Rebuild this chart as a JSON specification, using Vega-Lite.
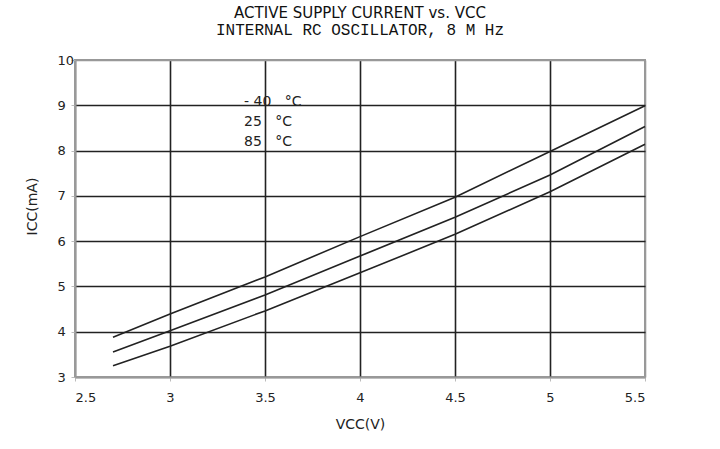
{
  "$schema": "https://vega.github.io/schema/vega-lite/v6.json",
  "autosize": {"type": "none"},
  "width": 570,
  "height": 317,
  "padding": {"left": 75, "top": 60, "right": 75, "bottom": 72},
  "background": "white",
  "title": {
    "text": "ACTIVE SUPPLY CURRENT vs. VCC",
    "subtitle": "INTERNAL RC OSCILLATOR, 8 M Hz",
    "anchor": "middle",
    "font": "DejaVu Sans",
    "fontSize": 15,
    "fontWeight": "normal",
    "color": "#111",
    "subtitleFont": "Liberation Mono",
    "subtitleFontSize": 16,
    "subtitleColor": "#111",
    "subtitlePadding": 1,
    "offset": 16
  },
  "config": {
    "view": {"stroke": "#999", "strokeWidth": 2},
    "axis": {
      "labelFont": "DejaVu Sans",
      "labelFontSize": 13,
      "labelColor": "#222",
      "titleFont": "DejaVu Sans",
      "titleFontSize": 14,
      "titleFontWeight": "normal",
      "titleColor": "#222",
      "domainColor": "#999",
      "domainWidth": 2,
      "tickColor": "#bbb",
      "tickSize": 4,
      "gridColor": "#222",
      "gridWidth": 1.6,
      "gridOpacity": 1
    }
  },
  "layer": [
    {
      "data": {
        "values": [
          {"vcc": 2.7, "icc": 3.88, "temp": "-40 °C"},
          {"vcc": 3.0, "icc": 4.39, "temp": "-40 °C"},
          {"vcc": 3.5, "icc": 5.21, "temp": "-40 °C"},
          {"vcc": 4.0, "icc": 6.10, "temp": "-40 °C"},
          {"vcc": 4.5, "icc": 6.97, "temp": "-40 °C"},
          {"vcc": 5.0, "icc": 7.98, "temp": "-40 °C"},
          {"vcc": 5.5, "icc": 8.99, "temp": "-40 °C"},
          {"vcc": 2.7, "icc": 3.55, "temp": "25 °C"},
          {"vcc": 3.0, "icc": 4.02, "temp": "25 °C"},
          {"vcc": 3.5, "icc": 4.81, "temp": "25 °C"},
          {"vcc": 4.0, "icc": 5.67, "temp": "25 °C"},
          {"vcc": 4.5, "icc": 6.53, "temp": "25 °C"},
          {"vcc": 5.0, "icc": 7.46, "temp": "25 °C"},
          {"vcc": 5.5, "icc": 8.53, "temp": "25 °C"},
          {"vcc": 2.7, "icc": 3.25, "temp": "85 °C"},
          {"vcc": 3.0, "icc": 3.68, "temp": "85 °C"},
          {"vcc": 3.5, "icc": 4.46, "temp": "85 °C"},
          {"vcc": 4.0, "icc": 5.30, "temp": "85 °C"},
          {"vcc": 4.5, "icc": 6.15, "temp": "85 °C"},
          {"vcc": 5.0, "icc": 7.09, "temp": "85 °C"},
          {"vcc": 5.5, "icc": 8.14, "temp": "85 °C"}
        ]
      },
      "mark": {"type": "line", "color": "#222", "strokeWidth": 1.6},
      "encoding": {
        "x": {
          "field": "vcc",
          "type": "quantitative",
          "scale": {"domain": [2.5, 5.5], "nice": false, "zero": false},
          "axis": {
            "values": [2.5, 3, 3.5, 4, 4.5, 5, 5.5],
            "format": "~g",
            "title": "VCC(V)",
            "titlePadding": 13,
            "labelPadding": 10,
            "gridColor": {"condition": {"test": "datum.value == 2.5 || datum.value == 5.5", "value": "#999"}, "value": "#222"}
          }
        },
        "y": {
          "field": "icc",
          "type": "quantitative",
          "scale": {"domain": [3, 10], "nice": false, "zero": false},
          "axis": {
            "values": [3, 4, 5, 6, 7, 8, 9, 10],
            "title": "ICC(mA)",
            "labelAlign": "left",
            "labelPadding": 14,
            "titleX": -36,
            "titleY": 146,
            "titleAlign": "center",
            "gridColor": {"condition": {"test": "datum.value == 3 || datum.value == 10", "value": "#999"}, "value": "#222"}
          }
        },
        "detail": {"field": "temp"}
      }
    },
    {
      "data": {
        "values": [
          {"vcc": 3.39, "icc": 9.07, "label": "-\u00a040\u00a0\u00a0\u00a0°C"},
          {"vcc": 3.39, "icc": 8.63, "label": "25\u00a0\u00a0\u00a0°C"},
          {"vcc": 3.39, "icc": 8.19, "label": "85\u00a0\u00a0\u00a0°C"}
        ]
      },
      "mark": {"type": "text", "align": "left", "baseline": "middle", "font": "DejaVu Sans", "fontSize": 14, "color": "#222"},
      "encoding": {
        "x": {"field": "vcc", "type": "quantitative"},
        "y": {"field": "icc", "type": "quantitative"},
        "text": {"field": "label"}
      }
    }
  ]
}
